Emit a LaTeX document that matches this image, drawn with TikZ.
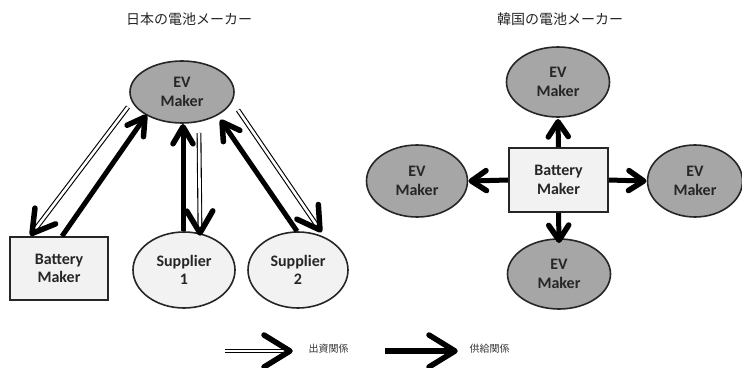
\documentclass[tikz,border=0pt]{standalone}
\usepackage{fontspec}
\setmainfont{Carlito}
\newfontfamily\jpfont{Noto Sans CJK JP}
\usetikzlibrary{shapes.geometric,calc,decorations.markings}
\definecolor{evgray}{HTML}{A6A6A6}
\definecolor{lightfill}{HTML}{F2F2F2}
\definecolor{txtdark}{HTML}{262626}
\begin{document}
\begin{tikzpicture}[x=1pt,y=-1pt,
  lbl/.style={align=center, text=txtdark, font=\bfseries\fontsize{16}{18.5}\selectfont, inner sep=0pt},
  evnode/.style={lbl, ellipse, draw=black!85, line width=1.6pt, fill=evgray},
  supnode/.style={lbl, ellipse, draw=black!85, line width=1.6pt, fill=lightfill},
  batnode/.style={lbl, rectangle, draw=black!85, line width=1.6pt, fill=lightfill},
  thk/.style={draw=black, line width=5pt, shorten >=3pt},
  dbl/.style={draw=black, double=white, double distance=2.6pt, line width=1.1pt, shorten >=5pt},
  chevtip/.style 2 args={decorate, decoration={markings, mark=at position 1 with {\draw[black, line width=5.5pt, line join=round, line cap=round] (-#1,#2) -- (0pt,0pt) -- (-#1,-#2);}}},
  jptitle/.style={font=\jpfont\fontsize{14}{16}\selectfont, text=black!85},
  jplegend/.style={font=\jpfont\fontsize{10}{12}\selectfont, text=black!80, anchor=west}
]
\useasboundingbox (0,0) rectangle (742,367);

% titles
\node[jptitle] (t1) at (189,19) {日本の電池メーカー};
\node[jptitle] (t2) at (560,19) {韓国の電池メーカー};

% left diagram
\node[evnode, minimum width=104pt, minimum height=62pt] (ev) at (182,92) {EV\\Maker};
\node[batnode, minimum width=98pt, minimum height=63pt] (bat) at (59,268.5) {Battery\\Maker};
\node[supnode, minimum width=102pt, minimum height=76pt] (s1) at (184,270) {Supplier\\1};
\node[supnode, minimum width=100pt, minimum height=76pt] (s2) at (298,270) {Supplier\\2};

% EV -> Battery (double)
\draw[dbl] ($(ev)+(-54,15)$) -- ($(bat)+(-27,-35)$);
\path[chevtip={22pt}{13pt}] ($(ev)+(-54,15)$) -- ($(bat)+(-27,-35)$);
% Battery -> EV (thick)
\draw[thk] ($(bat.north)+(3,0)$) -- ($(ev)+(-37,25)$);
\path[chevtip={17pt}{10pt}] ($(bat.north)+(3,0)$) -- ($(ev)+(-37,25)$);
% Supplier1 -> EV (thick)
\draw[thk] ($(s1.north)+(-1,0)$) -- ($(ev.south)+(1,3)$);
\path[chevtip={17pt}{10pt}] ($(s1.north)+(-1,0)$) -- ($(ev.south)+(1,3)$);
% EV -> Supplier1 (double)
\draw[dbl] ($(ev)+(17,41)$) -- ($(s1)+(16,-37)$);
\path[chevtip={22pt}{13pt}] ($(ev)+(17,41)$) -- ($(s1)+(16,-37)$);
% Supplier2 -> EV (thick)
\draw[thk] ($(s2.north)+(-1,0)$) -- ($(ev)+(40,30)$);
\path[chevtip={17pt}{10pt}] ($(s2.north)+(-1,0)$) -- ($(ev)+(40,30)$);
% EV -> Supplier2 (double)
\draw[dbl] ($(ev)+(56,18)$) -- ($(s2)+(22,-40)$);
\path[chevtip={22pt}{13pt}] ($(ev)+(56,18)$) -- ($(s2)+(22,-40)$);

% right diagram
\node[batnode, minimum width=99pt, minimum height=64pt] (kbat) at (558.5,180) {Battery\\Maker};
\node[evnode, minimum width=103pt, minimum height=70pt] (kevt) at (558,82) {EV\\Maker};
\node[evnode, minimum width=101pt, minimum height=72pt] (kevl) at (417,181) {EV\\Maker};
\node[evnode, minimum width=95pt, minimum height=72pt] (kevr) at (695,181) {EV\\Maker};
\node[evnode, minimum width=103pt, minimum height=70pt] (kevb) at (559,274) {EV\\Maker};

\draw[thk] (kbat.north) -- ($(kevt.south)+(0,4)$);
\path[chevtip={15pt}{10pt}] (kbat.north) -- ($(kevt.south)+(0,4)$);
\draw[thk] (kbat.west) -- ($(kevl.east)+(3,0)$);
\path[chevtip={15pt}{10pt}] (kbat.west) -- ($(kevl.east)+(3,0)$);
\draw[thk] (kbat.east) -- ($(kevr.west)+(-3,0)$);
\path[chevtip={15pt}{10pt}] (kbat.east) -- ($(kevr.west)+(-3,0)$);
\draw[thk] (kbat.south) -- ($(kevb.north)+(0,2)$);
\path[chevtip={15pt}{10pt}] (kbat.south) -- ($(kevb.north)+(0,2)$);

% legend
\coordinate (la1) at (225,351);
\coordinate (la2) at (290,351);
\coordinate (lb1) at (385,351);
\coordinate (lb2) at (455,351);
\draw[dbl] (la1) -- (la2);
\path[chevtip={26pt}{16pt}] (la1) -- (la2);
\node[jplegend] (lt1) at (305,349) {出資関係};
\draw[thk, line width=5.5pt] (lb1) -- (lb2);
\path[chevtip={26pt}{16pt}] (lb1) -- (lb2);
\node[jplegend] (lt2) at (466,349) {供給関係};
\end{tikzpicture}
\end{document}
